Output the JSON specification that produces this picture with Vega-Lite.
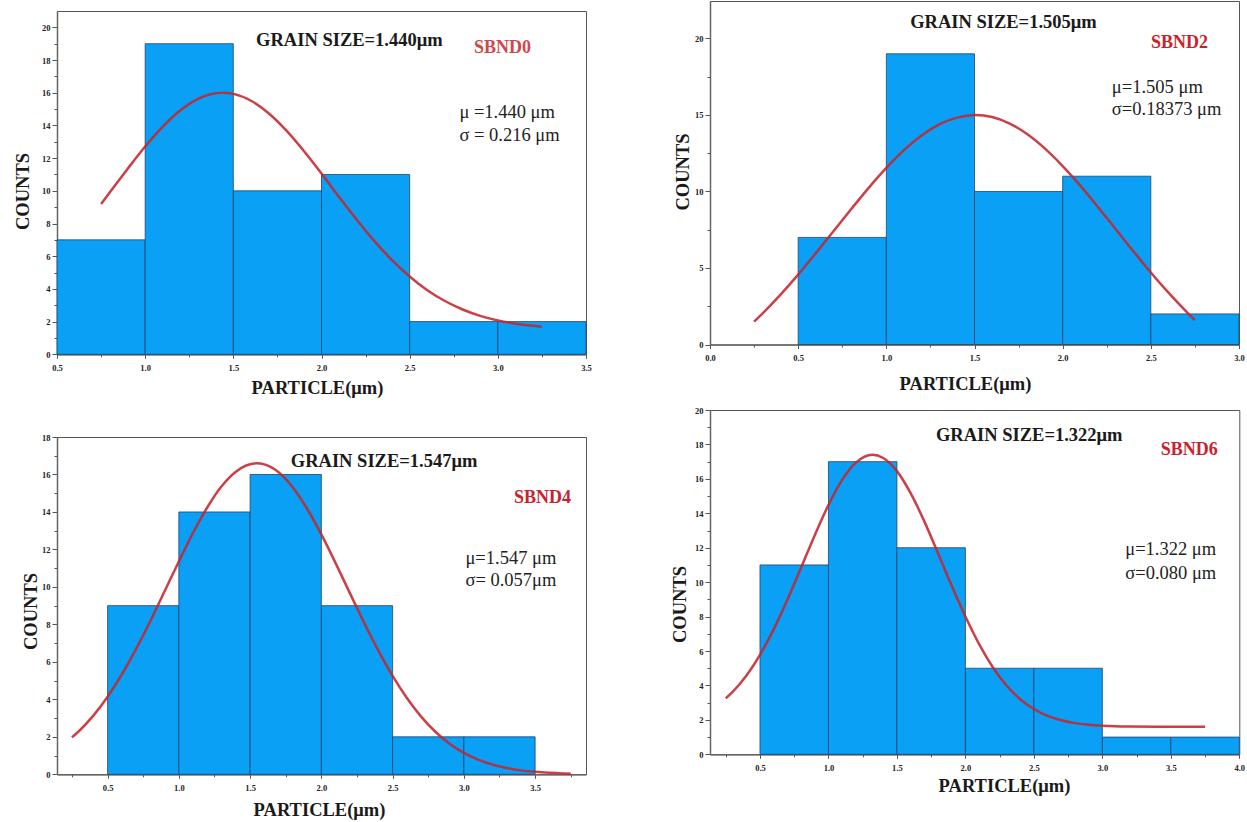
{
  "$schema": "https://vega.github.io/schema/vega-lite/v6.json",
  "background": "white",
  "padding": {"left": 12, "top": 0, "right": 5, "bottom": 0},
  "config": {
    "view": {"stroke": "#555", "strokeWidth": 1},
    "axis": {
      "grid": false,
      "labelFont": "Liberation Serif", "labelFontWeight": "bold", "labelFontSize": 8.5, "labelColor": "#222",
      "titleFont": "Liberation Serif", "titleFontWeight": "bold", "titleFontSize": 18.5, "titleColor": "#1a1a1a",
      "domainColor": "#666", "domainWidth": 1.5, "tickColor": "#555", "tickWidth": 1,
      "labelOverlap": false, "labelFlush": false, "titleBaseline": "alphabetic", "titleAlign": "center"
    },
    "axisY": {"titleAngle": -90, "labelPadding": 2, "tickSize": 5},
    "axisX": {"labelPadding": 5, "tickSize": 4}
  },
  "hconcat": [
    {
      "vconcat": [
        {"width": 529, "height": 8.5, "view": {"stroke": null, "fill": "white"}, "data": {"values": []}, "mark": "text"},
        {
          "vconcat": [
            {
              "width": 529, "height": 343.3,
              "resolve": {"axis": {"x": "independent", "y": "independent"}},
              "layer": [
                {
                  "data": {"values": [
                    {"lo": 0.5, "hi": 1.0, "count": 7}, {"lo": 1.0, "hi": 1.5, "count": 19},
                    {"lo": 1.5, "hi": 2.0, "count": 10}, {"lo": 2.0, "hi": 2.5, "count": 11},
                    {"lo": 2.5, "hi": 3.0, "count": 2}, {"lo": 3.0, "hi": 3.5, "count": 2}
                  ]},
                  "mark": {"type": "rect", "fill": "#0aa0f5", "stroke": "#23426b", "strokeWidth": 0.8},
                  "encoding": {
                    "x": {"field": "lo", "type": "quantitative", "title": "PARTICLE(μm)",
                      "scale": {"domain": [0.5, 3.5], "nice": false, "zero": false},
                      "axis": {"values": [0.5,1,1.5,2,2.5,3,3.5], "format": ".1f", "labelOverlap": false, "titleX": 260, "titleY": 39}},
                    "x2": {"field": "hi"},
                    "y": {"field": "count", "type": "quantitative", "title": "COUNTS",
                      "scale": {"domain": [0, 21], "nice": false},
                      "axis": {"values": [0,2,4,6,8,10,12,14,16,18,20], "labelOverlap": false, "titleX": -29, "titleY": 180}},
                    "y2": {"datum": 0}
                  }
                },
                {
                  "data": {"values": [
                    {"x": 0.75, "y": 9.20}, {"x": 0.8, "y": 9.91}, {"x": 0.9, "y": 11.34}, {"x": 1.0, "y": 12.71},
                    {"x": 1.1, "y": 13.93}, {"x": 1.2, "y": 14.93}, {"x": 1.3, "y": 15.63}, {"x": 1.44, "y": 16.0},
                    {"x": 1.5, "y": 15.93}, {"x": 1.6, "y": 15.51}, {"x": 1.7, "y": 14.75}, {"x": 1.8, "y": 13.70},
                    {"x": 1.9, "y": 12.44}, {"x": 2.0, "y": 11.06}, {"x": 2.1, "y": 9.62}, {"x": 2.2, "y": 8.23},
                    {"x": 2.3, "y": 6.92}, {"x": 2.4, "y": 5.76}, {"x": 2.5, "y": 4.76}, {"x": 2.6, "y": 3.92},
                    {"x": 2.7, "y": 3.26}, {"x": 2.8, "y": 2.74}, {"x": 2.9, "y": 2.35}, {"x": 3.0, "y": 2.07},
                    {"x": 3.1, "y": 1.87}, {"x": 3.2, "y": 1.74}, {"x": 3.25, "y": 1.69}
                  ]},
                  "mark": {"type": "line", "color": "#c4252c", "strokeWidth": 2.5, "opacity": 0.88, "interpolate": "monotone"},
                  "encoding": {
                    "x": {"field": "x", "type": "quantitative", "axis": {"orient": "bottom", "values": [0.75,1.25,1.75,2.25,2.75,3.25], "labels": false, "domain": false, "tickSize": 2.5, "title": null}},
                    "y": {"field": "y", "type": "quantitative", "axis": {"orient": "left", "values": [1,3,5,7,9,11,13,15,17,19], "labels": false, "domain": false, "tickSize": 3, "title": null}}
                  }
                },
                {
                  "data": {"values": [{"t": "GRAIN SIZE=1.440μm", "x": 2.158, "y": 19.2}]},
                  "mark": {"type": "text", "font": "Liberation Serif", "fontWeight": "bold", "fontSize": 18.5, "color": "#1a1a1a", "align": "center", "baseline": "middle"},
                  "encoding": {"x": {"field": "x", "type": "quantitative", "axis": null}, "y": {"field": "y", "type": "quantitative", "axis": null}, "text": {"field": "t"}}
                },
                {
                  "data": {"values": [{"t": "SBND0", "x": 3.026, "y": 18.76}]},
                  "mark": {"type": "text", "font": "Liberation Serif", "fontWeight": "bold", "fontSize": 18, "color": "#d0474b", "align": "center", "baseline": "middle"},
                  "encoding": {"x": {"field": "x", "type": "quantitative", "axis": null}, "y": {"field": "y", "type": "quantitative", "axis": null}, "text": {"field": "t"}}
                },
                {
                  "data": {"values": [{"t": "μ =1.440 μm", "x": 2.782, "y": 14.82}, {"t": "σ = 0.216 μm", "x": 2.782, "y": 13.4}]},
                  "mark": {"type": "text", "font": "Liberation Serif", "fontSize": 18.5, "color": "#222", "align": "left", "baseline": "middle"},
                  "encoding": {"x": {"field": "x", "type": "quantitative", "axis": null}, "y": {"field": "y", "type": "quantitative", "axis": null}, "text": {"field": "t"}}
                }
              ]
            },
            {
              "width": 529, "height": 337.3,
              "resolve": {"axis": {"x": "independent", "y": "independent"}},
              "layer": [
                {
                  "data": {"values": [
                    {"lo": 0.5, "hi": 1.0, "count": 9}, {"lo": 1.0, "hi": 1.5, "count": 14},
                    {"lo": 1.5, "hi": 2.0, "count": 16}, {"lo": 2.0, "hi": 2.5, "count": 9},
                    {"lo": 2.5, "hi": 3.0, "count": 2}, {"lo": 3.0, "hi": 3.5, "count": 2}
                  ]},
                  "mark": {"type": "rect", "fill": "#0aa0f5", "stroke": "#23426b", "strokeWidth": 0.8},
                  "encoding": {
                    "x": {"field": "lo", "type": "quantitative", "title": "PARTICLE(μm)",
                      "scale": {"domain": [0.145, 3.857], "nice": false, "zero": false},
                      "axis": {"values": [0.5,1,1.5,2,2.5,3,3.5], "format": ".1f", "labelOverlap": false, "titleX": 262, "titleY": 41.5}},
                    "x2": {"field": "hi"},
                    "y": {"field": "count", "type": "quantitative", "title": "COUNTS",
                      "scale": {"domain": [0, 18], "nice": false},
                      "axis": {"values": [0,2,4,6,8,10,12,14,16,18], "labelOverlap": false, "titleX": -20.6, "titleY": 174}},
                    "y2": {"datum": 0}
                  }
                },
                {
                  "data": {"values": [
                    {"x": 0.25, "y": 1.97}, {"x": 0.3, "y": 2.31}, {"x": 0.4, "y": 3.13}, {"x": 0.5, "y": 4.14},
                    {"x": 0.6, "y": 5.33}, {"x": 0.7, "y": 6.69}, {"x": 0.8, "y": 8.18}, {"x": 0.9, "y": 9.77},
                    {"x": 1.0, "y": 11.36}, {"x": 1.1, "y": 12.89}, {"x": 1.2, "y": 14.25}, {"x": 1.3, "y": 15.37},
                    {"x": 1.4, "y": 16.15}, {"x": 1.547, "y": 16.6}, {"x": 1.6, "y": 16.54}, {"x": 1.7, "y": 16.12},
                    {"x": 1.8, "y": 15.31}, {"x": 1.9, "y": 14.17}, {"x": 2.0, "y": 12.8}, {"x": 2.1, "y": 11.27},
                    {"x": 2.2, "y": 9.67}, {"x": 2.3, "y": 8.09}, {"x": 2.4, "y": 6.6}, {"x": 2.5, "y": 5.25},
                    {"x": 2.6, "y": 4.07}, {"x": 2.7, "y": 3.08}, {"x": 2.8, "y": 2.27}, {"x": 2.9, "y": 1.63},
                    {"x": 3.0, "y": 1.14}, {"x": 3.1, "y": 0.78}, {"x": 3.2, "y": 0.52}, {"x": 3.3, "y": 0.34},
                    {"x": 3.4, "y": 0.21}, {"x": 3.5, "y": 0.13}, {"x": 3.6, "y": 0.08}, {"x": 3.7, "y": 0.047},
                    {"x": 3.75, "y": 0.035}
                  ]},
                  "mark": {"type": "line", "color": "#c4252c", "strokeWidth": 2.5, "opacity": 0.88, "interpolate": "monotone"},
                  "encoding": {
                    "x": {"field": "x", "type": "quantitative", "axis": {"orient": "bottom", "values": [0.25,0.75,1.25,1.75,2.25,2.75,3.25,3.75], "labels": false, "domain": false, "tickSize": 2.5, "title": null}},
                    "y": {"field": "y", "type": "quantitative", "axis": {"orient": "left", "values": [1,3,5,7,9,11,13,15,17], "labels": false, "domain": false, "tickSize": 3, "title": null}}
                  }
                },
                {
                  "data": {"values": [{"t": "GRAIN SIZE=1.547μm", "x": 2.44, "y": 16.72}]},
                  "mark": {"type": "text", "font": "Liberation Serif", "fontWeight": "bold", "fontSize": 18.5, "color": "#1a1a1a", "align": "center", "baseline": "middle"},
                  "encoding": {"x": {"field": "x", "type": "quantitative", "axis": null}, "y": {"field": "y", "type": "quantitative", "axis": null}, "text": {"field": "t"}}
                },
                {
                  "data": {"values": [{"t": "SBND4", "x": 3.551, "y": 14.73}]},
                  "mark": {"type": "text", "font": "Liberation Serif", "fontWeight": "bold", "fontSize": 18, "color": "#c8232c", "align": "center", "baseline": "middle"},
                  "encoding": {"x": {"field": "x", "type": "quantitative", "axis": null}, "y": {"field": "y", "type": "quantitative", "axis": null}, "text": {"field": "t"}}
                },
                {
                  "data": {"values": [{"t": "μ=1.547 μm", "x": 3.011, "y": 11.56}, {"t": "σ= 0.057μm", "x": 3.011, "y": 10.35}]},
                  "mark": {"type": "text", "font": "Liberation Serif", "fontSize": 18.5, "color": "#222", "align": "left", "baseline": "middle"},
                  "encoding": {"x": {"field": "x", "type": "quantitative", "axis": null}, "y": {"field": "y", "type": "quantitative", "axis": null}, "text": {"field": "t"}}
                }
              ]
            }
          ],
          "spacing": 82,
          "bounds": "flush"
        }
      ],
      "spacing": 0,
      "bounds": "full"
    },
    {
      "vconcat": [
        {
          "width": 529, "height": 343.5,
          "resolve": {"axis": {"x": "independent", "y": "independent"}},
          "layer": [
            {
              "data": {"values": [
                {"lo": 0.5, "hi": 1.0, "count": 7}, {"lo": 1.0, "hi": 1.5, "count": 19},
                {"lo": 1.5, "hi": 2.0, "count": 10}, {"lo": 2.0, "hi": 2.5, "count": 11},
                {"lo": 2.5, "hi": 3.0, "count": 2}
              ]},
              "mark": {"type": "rect", "fill": "#0aa0f5", "stroke": "#23426b", "strokeWidth": 0.8},
              "encoding": {
                "x": {"field": "lo", "type": "quantitative", "title": "PARTICLE(μm)",
                  "scale": {"domain": [0, 3], "nice": false, "zero": false},
                  "axis": {"values": [0,0.5,1,1.5,2,2.5,3], "format": ".1f", "labelOverlap": false, "titleX": 255, "titleY": 45}},
                "x2": {"field": "hi"},
                "y": {"field": "count", "type": "quantitative", "title": "COUNTS",
                  "scale": {"domain": [0, 22.45], "nice": false},
                  "axis": {"values": [0,5,10,15,20], "labelOverlap": false, "titleX": -21.7, "titleY": 170.5}},
                "y2": {"datum": 0}
              }
            },
            {
              "data": {"values": [
                {"x": 0.25, "y": 1.49}, {"x": 0.3, "y": 2.05}, {"x": 0.4, "y": 3.26}, {"x": 0.5, "y": 4.57},
                {"x": 0.6, "y": 5.97}, {"x": 0.7, "y": 7.40}, {"x": 0.8, "y": 8.84}, {"x": 0.9, "y": 10.24},
                {"x": 1.0, "y": 11.54}, {"x": 1.1, "y": 12.70}, {"x": 1.2, "y": 13.66}, {"x": 1.3, "y": 14.38},
                {"x": 1.4, "y": 14.83}, {"x": 1.505, "y": 15.0}, {"x": 1.6, "y": 14.87}, {"x": 1.7, "y": 14.44},
                {"x": 1.8, "y": 13.74}, {"x": 1.9, "y": 12.80}, {"x": 2.0, "y": 11.66}, {"x": 2.1, "y": 10.38},
                {"x": 2.2, "y": 8.99}, {"x": 2.3, "y": 7.55}, {"x": 2.4, "y": 6.11}, {"x": 2.5, "y": 4.71},
                {"x": 2.6, "y": 3.39}, {"x": 2.7, "y": 2.17}, {"x": 2.75, "y": 1.60}
              ]},
              "mark": {"type": "line", "color": "#c4252c", "strokeWidth": 2.5, "opacity": 0.88, "interpolate": "monotone"},
              "encoding": {
                "x": {"field": "x", "type": "quantitative", "axis": {"orient": "bottom", "values": [0.25,0.75,1.25,1.75,2.25,2.75], "labels": false, "domain": false, "tickSize": 2.5, "title": null}},
                "y": {"field": "y", "type": "quantitative", "axis": {"orient": "left", "values": [2.5,7.5,12.5,17.5], "labels": false, "domain": false, "tickSize": 3, "title": null}}
              }
            },
            {
              "data": {"values": [{"t": "GRAIN SIZE=1.505μm", "x": 1.664, "y": 21.07}]},
              "mark": {"type": "text", "font": "Liberation Serif", "fontWeight": "bold", "fontSize": 18.5, "color": "#1a1a1a", "align": "center", "baseline": "middle"},
              "encoding": {"x": {"field": "x", "type": "quantitative", "axis": null}, "y": {"field": "y", "type": "quantitative", "axis": null}, "text": {"field": "t"}}
            },
            {
              "data": {"values": [{"t": "SBND2", "x": 2.663, "y": 19.72}]},
              "mark": {"type": "text", "font": "Liberation Serif", "fontWeight": "bold", "fontSize": 18, "color": "#c8232c", "align": "center", "baseline": "middle"},
              "encoding": {"x": {"field": "x", "type": "quantitative", "axis": null}, "y": {"field": "y", "type": "quantitative", "axis": null}, "text": {"field": "t"}}
            },
            {
              "data": {"values": [{"t": "μ=1.505 μm", "x": 2.279, "y": 16.84}, {"t": "σ=0.18373 μm", "x": 2.279, "y": 15.36}]},
              "mark": {"type": "text", "font": "Liberation Serif", "fontSize": 18.5, "color": "#222", "align": "left", "baseline": "middle"},
              "encoding": {"x": {"field": "x", "type": "quantitative", "axis": null}, "y": {"field": "y", "type": "quantitative", "axis": null}, "text": {"field": "t"}}
            }
          ]
        },
        {
          "width": 529.3, "height": 344.3,
          "resolve": {"axis": {"x": "independent", "y": "independent"}},
          "layer": [
            {
              "data": {"values": [
                {"lo": 0.5, "hi": 1.0, "count": 11}, {"lo": 1.0, "hi": 1.5, "count": 17},
                {"lo": 1.5, "hi": 2.0, "count": 12}, {"lo": 2.0, "hi": 2.5, "count": 5},
                {"lo": 2.5, "hi": 3.0, "count": 5}, {"lo": 3.0, "hi": 3.5, "count": 1},
                {"lo": 3.5, "hi": 4.0, "count": 1}
              ]},
              "mark": {"type": "rect", "fill": "#0aa0f5", "stroke": "#23426b", "strokeWidth": 0.8},
              "encoding": {
                "x": {"field": "lo", "type": "quantitative", "title": "PARTICLE(μm)",
                  "scale": {"domain": [0.135, 4.0], "nice": false, "zero": false},
                  "axis": {"values": [0.5,1,1.5,2,2.5,3,3.5,4], "format": ".1f", "labelOverlap": false, "titleX": 294, "titleY": 37}},
                "x2": {"field": "hi"},
                "y": {"field": "count", "type": "quantitative", "title": "COUNTS",
                  "scale": {"domain": [0, 20], "nice": false},
                  "axis": {"values": [0,2,4,6,8,10,12,14,16,18,20], "labelOverlap": false, "titleX": -24.4, "titleY": 194}},
                "y2": {"datum": 0}
              }
            },
            {
              "data": {"values": [
                {"x": 0.25, "y": 3.25}, {"x": 0.3, "y": 3.62}, {"x": 0.4, "y": 4.56}, {"x": 0.5, "y": 5.78},
                {"x": 0.6, "y": 7.26}, {"x": 0.7, "y": 8.98}, {"x": 0.8, "y": 10.84}, {"x": 0.9, "y": 12.73},
                {"x": 1.0, "y": 14.48}, {"x": 1.1, "y": 15.94}, {"x": 1.2, "y": 16.94}, {"x": 1.322, "y": 17.4},
                {"x": 1.4, "y": 17.21}, {"x": 1.5, "y": 16.45}, {"x": 1.6, "y": 15.17}, {"x": 1.7, "y": 13.53},
                {"x": 1.8, "y": 11.68}, {"x": 1.9, "y": 9.79}, {"x": 2.0, "y": 8.0}, {"x": 2.1, "y": 6.40},
                {"x": 2.2, "y": 5.06}, {"x": 2.3, "y": 4.00}, {"x": 2.4, "y": 3.20}, {"x": 2.5, "y": 2.63},
                {"x": 2.6, "y": 2.23}, {"x": 2.7, "y": 1.98}, {"x": 2.8, "y": 1.81}, {"x": 2.9, "y": 1.72},
                {"x": 3.0, "y": 1.66}, {"x": 3.2, "y": 1.61}, {"x": 3.4, "y": 1.60}, {"x": 3.6, "y": 1.60},
                {"x": 3.75, "y": 1.60}
              ]},
              "mark": {"type": "line", "color": "#c4252c", "strokeWidth": 2.5, "opacity": 0.88, "interpolate": "monotone"},
              "encoding": {
                "x": {"field": "x", "type": "quantitative", "axis": {"orient": "bottom", "values": [0.25,0.75,1.25,1.75,2.25,2.75,3.25,3.75], "labels": false, "domain": false, "tickSize": 2.5, "title": null}},
                "y": {"field": "y", "type": "quantitative", "axis": {"orient": "left", "values": [1,3,5,7,9,11,13,15,17,19], "labels": false, "domain": false, "tickSize": 3, "title": null}}
              }
            },
            {
              "data": {"values": [{"t": "GRAIN SIZE=1.322μm", "x": 2.466, "y": 18.56}]},
              "mark": {"type": "text", "font": "Liberation Serif", "fontWeight": "bold", "fontSize": 18.5, "color": "#1a1a1a", "align": "center", "baseline": "middle"},
              "encoding": {"x": {"field": "x", "type": "quantitative", "axis": null}, "y": {"field": "y", "type": "quantitative", "axis": null}, "text": {"field": "t"}}
            },
            {
              "data": {"values": [{"t": "SBND6", "x": 3.635, "y": 17.69}]},
              "mark": {"type": "text", "font": "Liberation Serif", "fontWeight": "bold", "fontSize": 18, "color": "#c8232c", "align": "center", "baseline": "middle"},
              "encoding": {"x": {"field": "x", "type": "quantitative", "axis": null}, "y": {"field": "y", "type": "quantitative", "axis": null}, "text": {"field": "t"}}
            },
            {
              "data": {"values": [{"t": "μ=1.322 μm", "x": 3.167, "y": 11.92}, {"t": "σ=0.080 μm", "x": 3.167, "y": 10.56}]},
              "mark": {"type": "text", "font": "Liberation Serif", "fontSize": 18.5, "color": "#222", "align": "left", "baseline": "middle"},
              "encoding": {"x": {"field": "x", "type": "quantitative", "axis": null}, "y": {"field": "y", "type": "quantitative", "axis": null}, "text": {"field": "t"}}
            }
          ]
        }
      ],
      "spacing": 65,
      "bounds": "flush"
    }
  ],
  "spacing": 78,
  "bounds": "full"
}
